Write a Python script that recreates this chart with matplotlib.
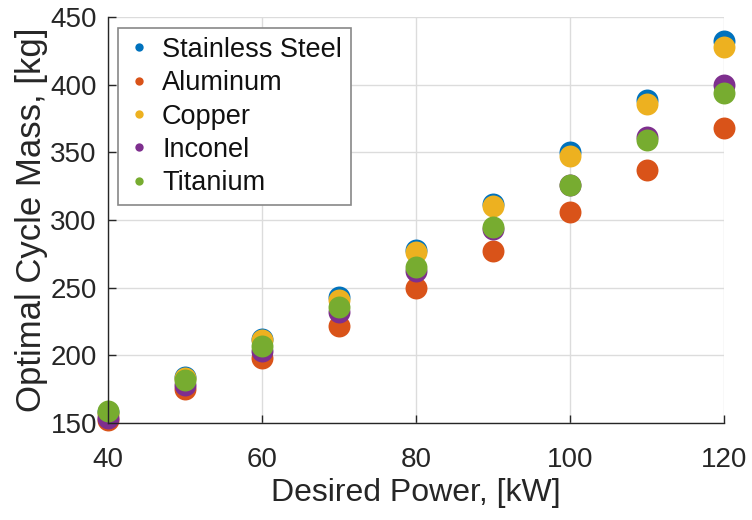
import matplotlib
matplotlib.use("Agg")
import matplotlib.pyplot as plt

power_kw = [40, 50, 60, 70, 80, 90, 100, 110, 120]
stainless_steel = [158, 184, 212, 243, 278, 312, 350, 389, 432]
aluminum = [152, 175, 198, 222, 250, 277, 306, 337, 368]
copper = [157, 183, 211, 241, 276, 310, 347, 386, 428]
inconel = [154, 178, 203, 232, 262, 293, 326, 361, 400]
titanium = [159, 182, 207, 236, 265, 295, 326, 359, 394]

series = [
    ("Stainless Steel", stainless_steel, "#0072BD"),
    ("Aluminum", aluminum, "#D95319"),
    ("Copper", copper, "#EDB120"),
    ("Inconel", inconel, "#7E2F8E"),
    ("Titanium", titanium, "#77AC30"),
]

plt.rcParams["font.family"] = ["Liberation Sans", "DejaVu Sans"]
text_color = "#262626"

fig = plt.figure(figsize=(7.52, 5.2), dpi=100, facecolor="white")
ax = fig.add_axes([108 / 752, 1 - 423 / 520, 616 / 752, 406 / 520])

for name, vals, col in series:
    ax.plot(power_kw, vals, linestyle="none", marker="o", markersize=15.8,
            markerfacecolor=col, markeredgecolor="none", label=name, clip_on=False)

ax.set_xlim(40, 120)
ax.set_ylim(150, 450)
ax.set_xticks([40, 60, 80, 100, 120])
ax.set_yticks([150, 200, 250, 300, 350, 400, 450])
ax.grid(True, color="#dcdcdc", linewidth=1.0)
ax.set_axisbelow(True)
for side in ("top", "right"):
    ax.spines[side].set_visible(False)
for side in ("left", "bottom"):
    ax.spines[side].set_color(text_color)
    ax.spines[side].set_linewidth(1.0)
ax.tick_params(direction="in", length=6, width=1.0, colors=text_color,
               labelsize=20)
ax.tick_params(axis="x", pad=17)
ax.tick_params(axis="y", pad=8)

ax.set_xlabel("Desired Power, [kW]", fontsize=23, color=text_color, labelpad=4)
ax.set_ylabel("Optimal Cycle Mass, [kg]", fontsize=25, color=text_color, labelpad=2)

leg = ax.legend(loc="upper left", bbox_to_anchor=(0.016, 0.973), borderaxespad=0,
                fontsize=19.5, markerscale=0.38, handlelength=0.9, handletextpad=0.4,
                labelspacing=0.27, borderpad=0.33, fancybox=False, framealpha=1)
leg.get_frame().set_edgecolor("#888888")
leg.get_frame().set_linewidth(1.2)
for t in leg.get_texts():
    t.set_color("#111111")

fig.savefig("out.png", dpi=100, facecolor="white")
